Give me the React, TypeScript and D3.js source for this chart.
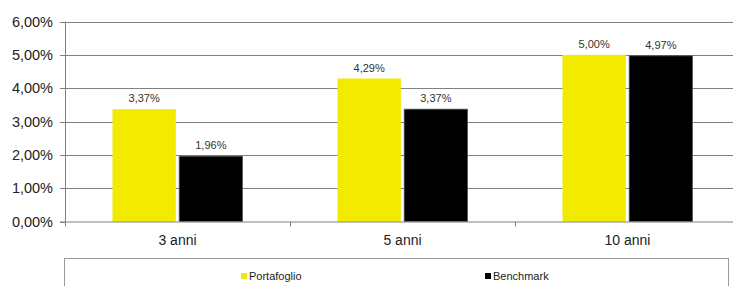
import React, { useRef, useEffect } from "react";
import * as d3 from "d3";

const categories = ["3 anni", "5 anni", "10 anni"];
const seriesNames = ["Portafoglio", "Benchmark"];
const portafoglio = [3.37, 4.29, 5.0];
const benchmark = [1.96, 3.37, 4.97];
const yTicks = [0, 1, 2, 3, 4, 5, 6];
const colors = ["#f2eb00", "#000000"];

const fmt = (v: number) => v.toFixed(2).replace(".", ",") + "%";

export default function App() {
  const ref = useRef<SVGSVGElement>(null);
  const width = 733;
  const height = 286;

  useEffect(() => {
    const svg = d3.select(ref.current);
    svg.selectAll("*").remove();
    const font = "Arial, 'Liberation Sans', sans-serif";
    const left = 65, right = 740, top = 21.5, bottom = 221.5;

    const x = d3.scaleBand().domain(categories).range([left, right]);
    const y = d3.scaleLinear().domain([0, 6]).range([bottom, top]);
    const inner = d3.scaleBand().domain(seriesNames).range([0, 130]).paddingInner(0.05);
    const barOffset = (x.bandwidth() - 130) / 2;

    svg.append("rect").attr("width", width).attr("height", height).attr("fill", "#fff");

    // gridlines
    svg.append("g")
      .selectAll("line")
      .data(yTicks.slice(1))
      .join("line")
      .attr("x1", left).attr("x2", right)
      .attr("y1", d => Math.round(y(d)) + 0.5).attr("y2", d => Math.round(y(d)) + 0.5)
      .attr("stroke", "#808080").attr("stroke-width", 1);

    // y axis
    const yAxis = svg.append("g");
    yAxis.append("line")
      .attr("x1", left + 0.5).attr("x2", left + 0.5)
      .attr("y1", top).attr("y2", bottom + 1)
      .attr("stroke", "#808080");
    yAxis.selectAll("line.tick")
      .data(yTicks)
      .join("line")
      .attr("class", "tick")
      .attr("x1", left - 5).attr("x2", left)
      .attr("y1", d => Math.round(y(d)) + 0.5).attr("y2", d => Math.round(y(d)) + 0.5)
      .attr("stroke", "#808080");
    yAxis.selectAll("text")
      .data(yTicks)
      .join("text")
      .attr("x", 53)
      .attr("y", d => y(d))
      .attr("dy", "0.36em")
      .attr("text-anchor", "end")
      .attr("font-family", font)
      .attr("font-size", 14.5)
      .attr("fill", "#222")
      .text(d => fmt(d));

    const series = [portafoglio, benchmark];
    series.forEach((vals, si) => {
      svg.append("g")
        .selectAll("rect")
        .data(vals)
        .join("rect")
        .attr("x", (d, i) => (x(categories[i]) as number) + barOffset + (inner(seriesNames[si]) as number))
        .attr("y", d => y(d))
        .attr("width", inner.bandwidth())
        .attr("height", d => bottom - y(d))
        .attr("fill", colors[si])
        .attr("stroke", si === 1 ? "#555" : "none")
        .attr("stroke-width", 0.8);
      svg.append("g")
        .selectAll("text")
        .data(vals)
        .join("text")
        .attr("x", (d, i) => (x(categories[i]) as number) + barOffset + (inner(seriesNames[si]) as number) + inner.bandwidth() / 2)
        .attr("y", d => y(d) - 7)
        .attr("text-anchor", "middle")
        .attr("font-family", font)
        .attr("font-size", 11)
        .attr("fill", "#333")
        .text(d => fmt(d));
    });

    // x axis
    svg.append("line")
      .attr("x1", left - 5).attr("x2", right)
      .attr("y1", bottom + 0.5).attr("y2", bottom + 0.5)
      .attr("stroke", "#808080");
    svg.append("g")
      .selectAll("line")
      .data(categories)
      .join("line")
      .attr("x1", d => Math.round(x(d) as number) + 0.5).attr("x2", d => Math.round(x(d) as number) + 0.5)
      .attr("y1", bottom).attr("y2", bottom + 5)
      .attr("stroke", "#808080");
    svg.append("g")
      .selectAll("text")
      .data(categories)
      .join("text")
      .attr("x", d => (x(d) as number) + x.bandwidth() / 2)
      .attr("y", 245)
      .attr("text-anchor", "middle")
      .attr("font-family", font)
      .attr("font-size", 14)
      .attr("fill", "#222")
      .text(d => d);

    // legend
    svg.append("rect")
      .attr("x", 64.5).attr("y", 258.5)
      .attr("width", 664).attr("height", 40)
      .attr("fill", "#fff").attr("stroke", "#999");
    const legendX = [241, 485];
    seriesNames.forEach((name, i) => {
      svg.append("rect")
        .attr("x", legendX[i]).attr("y", 273)
        .attr("width", 6).attr("height", 6)
        .attr("fill", colors[i]);
      svg.append("text")
        .attr("x", legendX[i] + 8).attr("y", 280)
        .attr("font-family", font)
        .attr("font-size", 11)
        .attr("fill", "#222")
        .text(name);
    });
  }, []);

  return (
    <svg
      ref={ref}
      width={width}
      height={height}
      style={{ position: "absolute", left: 0, top: 0, display: "block" }}
    />
  );
}
